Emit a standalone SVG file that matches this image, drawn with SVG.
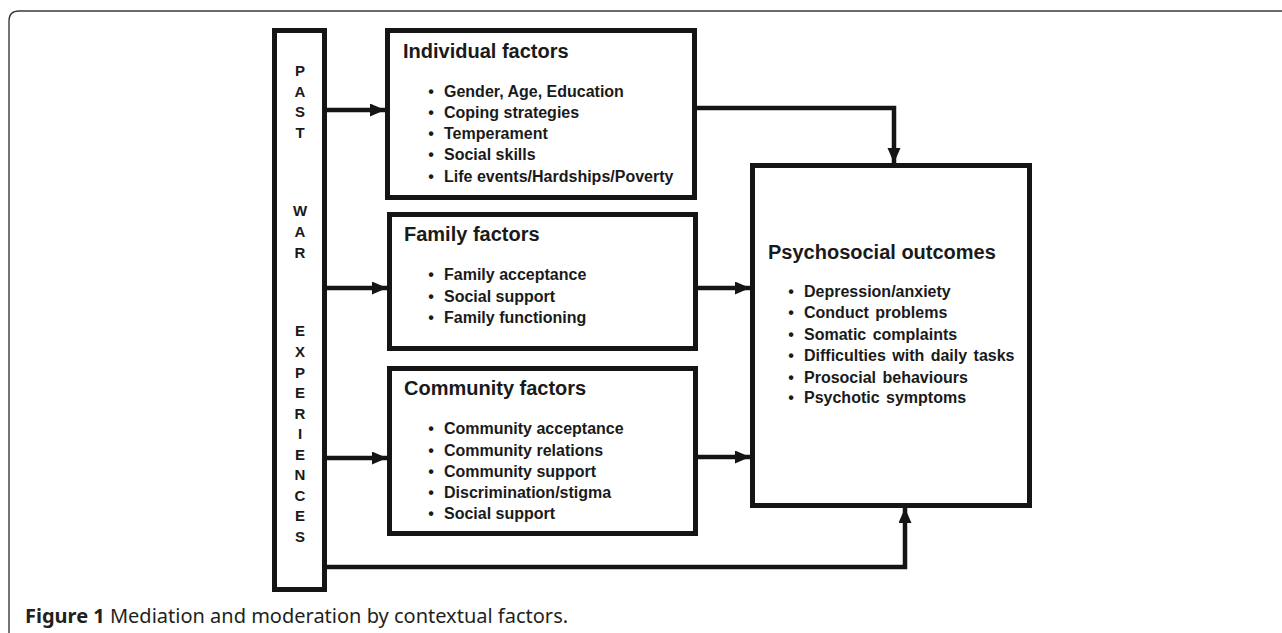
<svg xmlns="http://www.w3.org/2000/svg" width="1282" height="633" viewBox="0 0 1282 633">
<style>
.box{fill:#fff;stroke:#151515;stroke-width:5}
.ln{fill:none;stroke:#151515;stroke-width:4.5}
.t{font-family:"Liberation Sans",Arial,sans-serif;font-weight:bold;fill:#1a1a1a}
.ti{font-size:20px}
.bu{font-size:16px}
.ws{word-spacing:2px}
.lt{font-size:15px;text-anchor:middle}
.dot{text-anchor:middle}
.cap{font-family:"Noto Sans","Open Sans",sans-serif;font-size:20px;fill:#231f20}
</style>
<defs>
<marker id="ah" markerUnits="userSpaceOnUse" markerWidth="16" markerHeight="14" refX="15" refY="6.5" orient="auto">
<path d="M0,0 L15,6.5 L0,13 Z" fill="#151515"/>
</marker>
</defs>
<rect width="1282" height="633" fill="#fff"/>
<path d="M9,633 L9,21 Q9,11 19,11 L1282,11" fill="none" stroke="#3a3a3a" stroke-width="1.4"/>

<g id="past-war-experiences">
<rect class="box" x="274.5" y="30.5" width="50" height="559"/>
<g class="t lt">
<text x="300" y="76">P</text>
<text x="300" y="97">A</text>
<text x="300" y="117">S</text>
<text x="300" y="138">T</text>
<text x="300" y="216">W</text>
<text x="300" y="237">A</text>
<text x="300" y="258">R</text>
<text x="300" y="336">E</text>
<text x="300" y="357">X</text>
<text x="300" y="378">P</text>
<text x="300" y="398">E</text>
<text x="300" y="419">R</text>
<text x="300" y="439">I</text>
<text x="300" y="460">E</text>
<text x="300" y="480">N</text>
<text x="300" y="501">C</text>
<text x="300" y="521">E</text>
<text x="300" y="542">S</text>
</g>
</g>

<g id="individual-factors">
<rect class="box" x="387.5" y="30.5" width="307" height="167"/>
<text class="t ti" x="403" y="58">Individual factors</text>
<g class="t bu">
<text class="dot" x="431" y="97">•</text><text x="444" y="97">Gender, Age, Education</text>
<text class="dot" x="431" y="118">•</text><text x="444" y="118">Coping strategies</text>
<text class="dot" x="431" y="139">•</text><text x="444" y="139">Temperament</text>
<text class="dot" x="431" y="160">•</text><text x="444" y="160">Social skills</text>
<text class="dot" x="431" y="182">•</text><text x="444" y="182">Life events/Hardships/Poverty</text>
</g>
</g>

<g id="family-factors">
<rect class="box" x="389.5" y="214.5" width="306" height="134"/>
<text class="t ti" x="404" y="241">Family factors</text>
<g class="t bu">
<text class="dot" x="431" y="280">•</text><text x="444" y="280">Family acceptance</text>
<text class="dot" x="431" y="302">•</text><text x="444" y="302">Social support</text>
<text class="dot" x="431" y="323">•</text><text x="444" y="323">Family functioning</text>
</g>
</g>

<g id="community-factors">
<rect class="box" x="389.5" y="368.5" width="306" height="165"/>
<text class="t ti" x="404" y="395">Community factors</text>
<g class="t bu">
<text class="dot" x="431" y="434">•</text><text x="444" y="434">Community acceptance</text>
<text class="dot" x="431" y="456">•</text><text x="444" y="456">Community relations</text>
<text class="dot" x="431" y="477">•</text><text x="444" y="477">Community support</text>
<text class="dot" x="431" y="498">•</text><text x="444" y="498">Discrimination/stigma</text>
<text class="dot" x="431" y="519">•</text><text x="444" y="519">Social support</text>
</g>
</g>

<g id="psychosocial-outcomes">
<rect class="box" x="752.5" y="165.5" width="277" height="340"/>
<text class="t ti" x="768" y="259">Psychosocial outcomes</text>
<g class="t bu">
<text class="dot" x="791" y="297">•</text><text class="ws" x="804" y="297">Depression/anxiety</text>
<text class="dot" x="791" y="318">•</text><text class="ws" x="804" y="318">Conduct problems</text>
<text class="dot" x="791" y="340">•</text><text class="ws" x="804" y="340">Somatic complaints</text>
<text class="dot" x="791" y="361">•</text><text class="ws" x="804" y="361">Difficulties with daily tasks</text>
<text class="dot" x="791" y="383">•</text><text class="ws" x="804" y="383">Prosocial behaviours</text>
<text class="dot" x="791" y="403">•</text><text class="ws" x="804" y="403">Psychotic symptoms</text>
</g>
</g>

<g id="connectors">
<path class="ln" d="M327,110 L385,110" marker-end="url(#ah)"/>
<path class="ln" d="M327,288 L387,288" marker-end="url(#ah)"/>
<path class="ln" d="M327,458 L387,458" marker-end="url(#ah)"/>
<path class="ln" d="M697,108 L894,108 L894,163" marker-end="url(#ah)"/>
<path class="ln" d="M698,288 L750,288" marker-end="url(#ah)"/>
<path class="ln" d="M698,457 L750,457" marker-end="url(#ah)"/>
<path class="ln" d="M327,567 L905,567 L905,508" marker-end="url(#ah)"/>
</g>

<text class="cap" x="25" y="623"><tspan font-weight="bold">Figure 1</tspan> Mediation and moderation by contextual factors.</text>
</svg>
